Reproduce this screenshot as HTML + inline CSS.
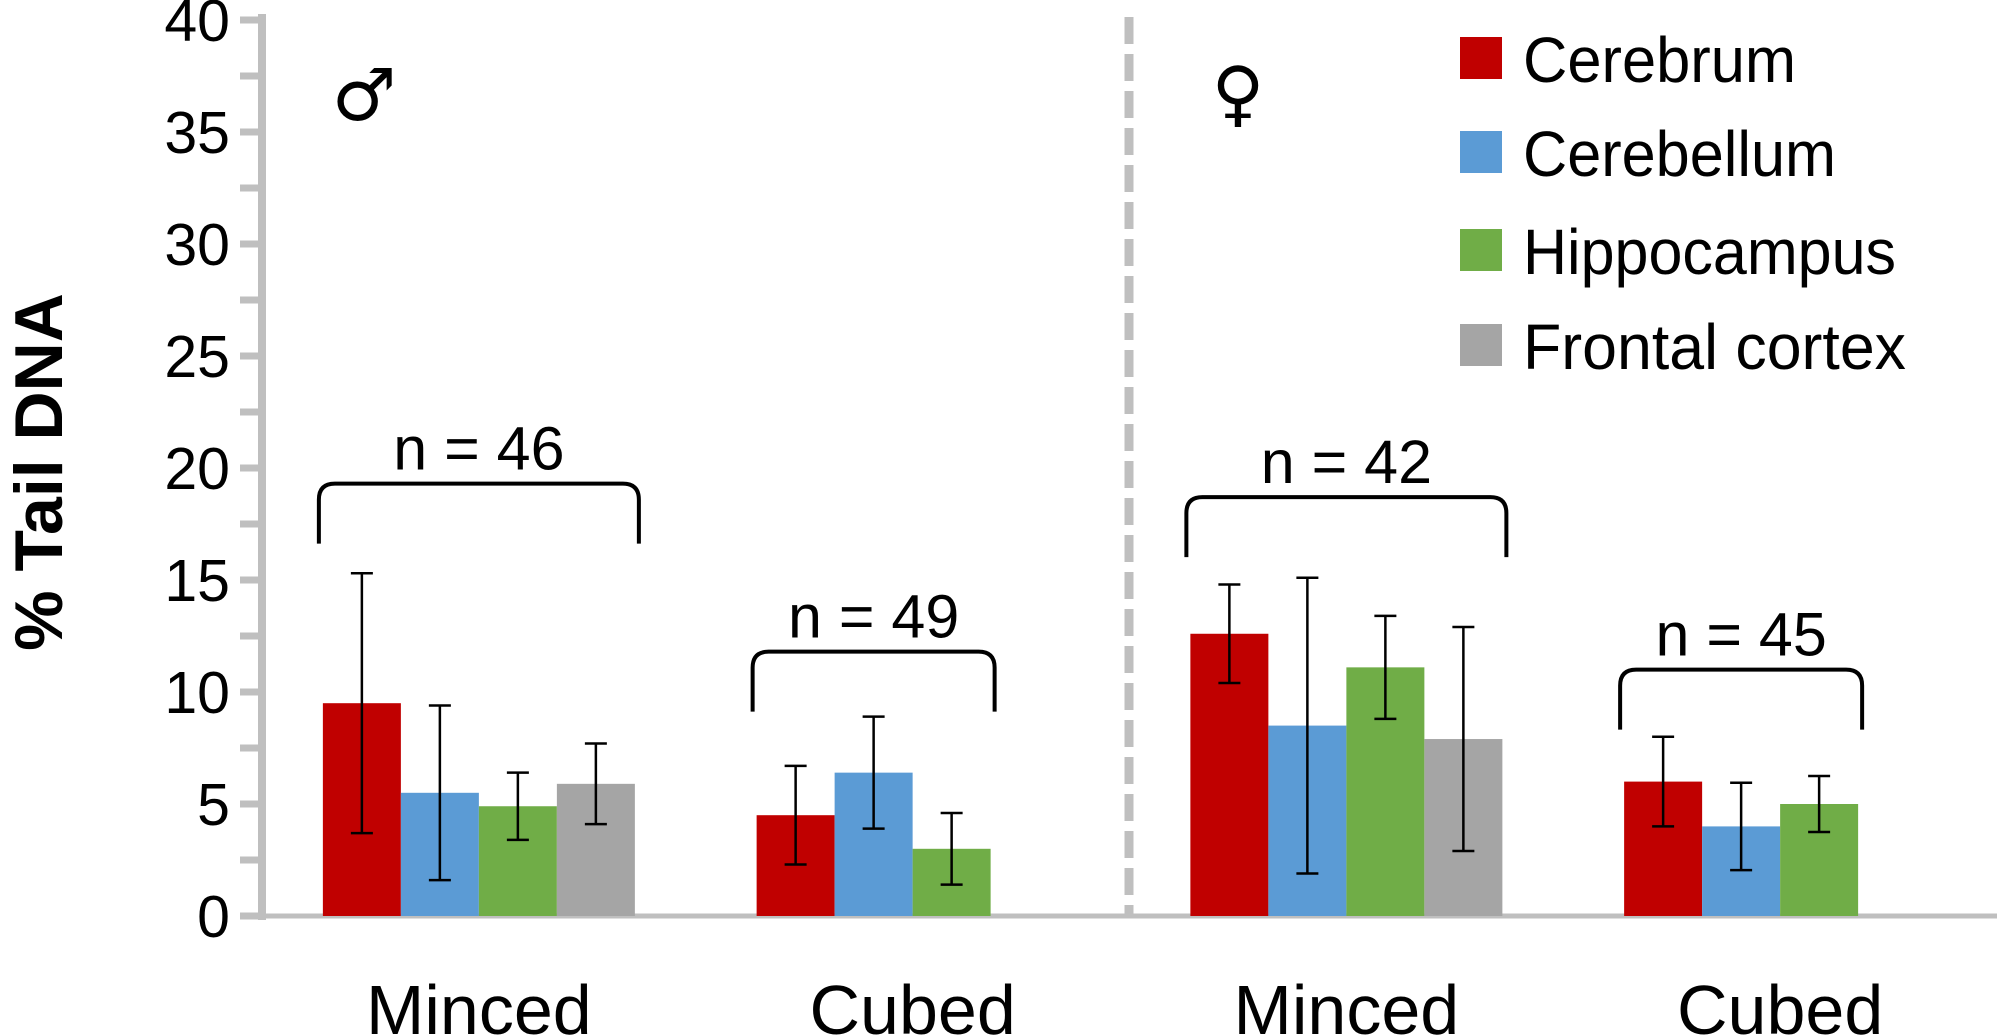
<!DOCTYPE html>
<html><head><meta charset="utf-8">
<style>
html,body{margin:0;padding:0;background:#fff;}
svg{display:block;font-family:"Liberation Sans","DejaVu Sans",sans-serif;}
</style></head>
<body>
<svg id="chart" width="2000" height="1036" viewBox="0 0 2000 1036" xmlns="http://www.w3.org/2000/svg"></svg>
<script>
const categories = ["Minced","Cubed","Minced","Cubed"];
const seriesNames = ["Cerebrum","Cerebellum","Hippocampus","Frontal cortex"];
const seriesColors = ["#C00000","#5B9BD5","#70AD47","#A5A5A5"];
const cerebrum = [9.5, 4.5, 12.6, 6.0];
const cerebellum = [5.5, 6.4, 8.5, 4.0];
const hippocampus = [4.9, 3.0, 11.1, 5.0];
const frontalCortex = [5.9, null, 7.9, null];
const cerebrumErr = [5.8, 2.2, 2.2, 2.0];
const cerebellumErr = [3.9, 2.5, 6.6, 1.95];
const hippocampusErr = [1.5, 1.6, 2.3, 1.25];
const frontalCortexErr = [1.8, null, 5.0, null];
const nLabels = ["n = 46","n = 49","n = 42","n = 45"];
const bracketLevels = [19.3, 11.8, 18.7, 11.0];
const yTicks = [0,5,10,15,20,25,30,35,40];

const svg = document.getElementById('chart');
const NS = "http://www.w3.org/2000/svg";
function mk(tag, attrs, parent){const e=document.createElementNS(NS,tag);for(const k in attrs)e.setAttribute(k,attrs[k]);(parent||svg).appendChild(e);return e;}
const y0=916, pxPerUnit=22.4;
function yS(v){return y0 - v*pxPerUnit;}
const plotL=262, plotR=1997, catW=(plotR-plotL)/4, barW=78;
function xCat(i){return plotL + catW*(i+0.5);}
function xBar(i,s){return xCat(i) - 2*barW + s*barW;}

// axis
const ax = mk('line',{x1:262,y1:14,x2:262,y2:920,stroke:'#BFBFBF','stroke-width':8});


const xax = mk('line',{x1:240,y1:916,x2:1997,y2:916,stroke:'#BFBFBF','stroke-width':5});


for(let v=0; v<=40; v+=2.5){
  const t = mk('line',{x1:240,y1:yS(v),x2:262,y2:yS(v),stroke:'#BFBFBF','stroke-width':7});
  
  
}
yTicks.forEach(v=>{
  const t = mk('text',{x:230,y:yS(v)+21,'text-anchor':'end','font-size':59,fill:'#000'});
  t.textContent=v;
  
  
});
const yt = mk('text',{x:0,y:0,'font-size':68,'font-weight':'bold','text-anchor':'middle',transform:'translate(62,472) rotate(-90)'});
yt.textContent='% Tail DNA';



// divider
const dv = mk('line',{x1:1129,y1:17,x2:1129,y2:916,stroke:'#BFBFBF','stroke-width':9,'stroke-dasharray':'27 10'});



// bars
const vals=[cerebrum,cerebellum,hippocampus,frontalCortex];
const errs=[cerebrumErr,cerebellumErr,hippocampusErr,frontalCortexErr];
vals.forEach((arr,s)=>{
  arr.forEach((v,i)=>{
    if(v===null) return;
    const b = mk('rect',{x:xBar(i,s),y:yS(v),width:barW,height:y0-yS(v),fill:seriesColors[s]});
    
    
    const e=errs[s][i], cx=xBar(i,s)+barW/2;
    const g = mk('path',{d:`M${cx},${yS(v+e)}V${yS(v-e)}M${cx-11},${yS(v+e)}H${cx+11}M${cx-11},${yS(v-e)}H${cx+11}`,stroke:'#000','stroke-width':2.5,fill:'none'});
    
    
  });
});

// brackets
const bracketBars=[4,3,4,3];
nLabels.forEach((lab,i)=>{
  const L=xBar(i,0)-4, R=xBar(i,bracketBars[i]-1)+barW+4;
  const yt=yS(bracketLevels[i]), yb=yt+60;
  const p = mk('path',{d:`M${L},${yb}V${yt+16}Q${L},${yt} ${L+16},${yt}H${R-16}Q${R},${yt} ${R},${yt+16}V${yb}`,stroke:'#000','stroke-width':4,fill:'none'});
  
  
  const t = mk('text',{x:(L+R)/2,y:yt-14,'text-anchor':'middle','font-size':61});
  t.textContent=lab;
  
  
});

// category labels
categories.forEach((c,i)=>{
  const t = mk('text',{x:xCat(i),y:1034,'text-anchor':'middle','font-size':70});
  t.textContent=c;
  
  
});

// sex symbols
const m = mk('text',{x:364,y:120,'text-anchor':'middle','font-size':72,'font-family':'DejaVu Sans, sans-serif'});
m.textContent='♂';


const f = mk('text',{x:1238,y:118,'text-anchor':'middle','font-size':72,'font-family':'DejaVu Sans, sans-serif'});
f.textContent='♀';



// legend
const legRows=[58,152,250,345];
const legW=[273,313,373,383];
seriesNames.forEach((n,s)=>{
  const r = mk('rect',{x:1460,y:legRows[s]-21,width:42,height:42,fill:seriesColors[s]});
  
  
  const t = mk('text',{x:1523,y:legRows[s]+24,'font-size':64,textLength:legW[s],lengthAdjust:'spacingAndGlyphs'});
  t.textContent=n;
  
  
});
</script>
</body></html>
